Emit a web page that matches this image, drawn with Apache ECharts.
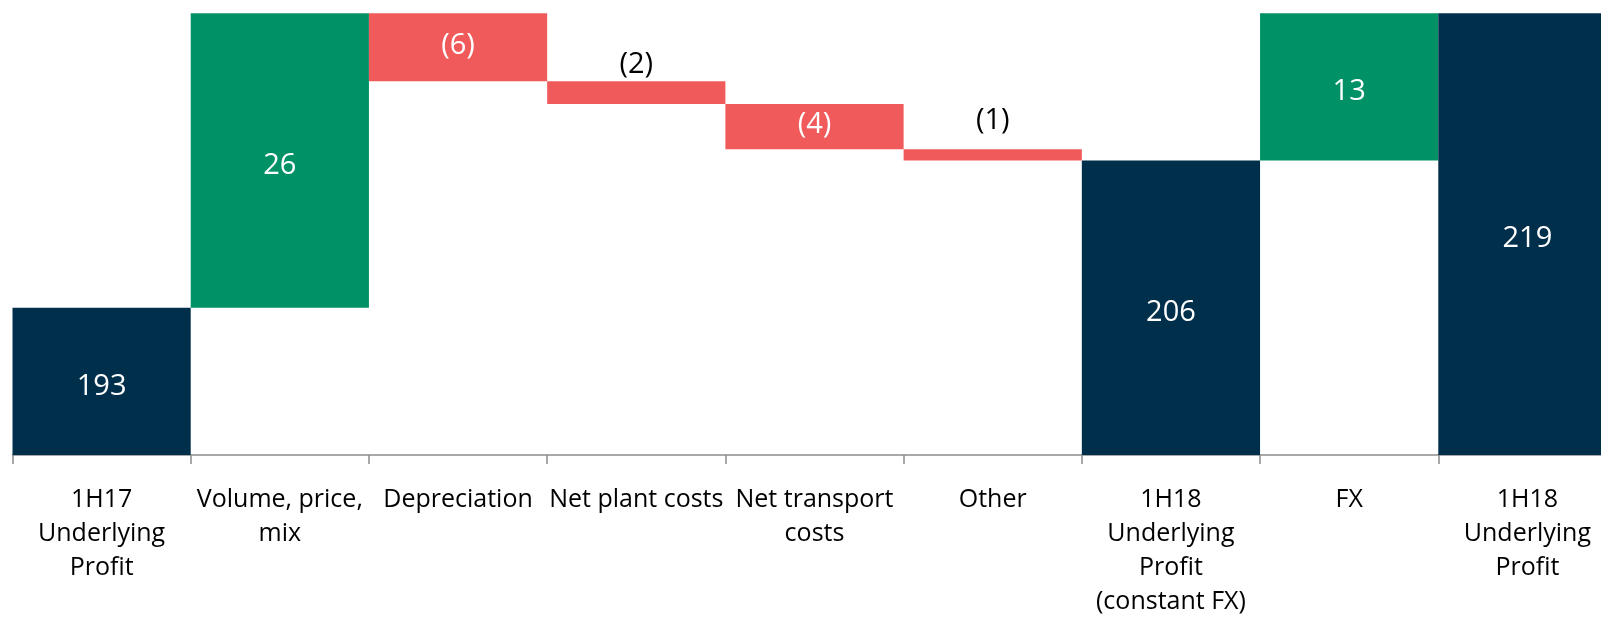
<!DOCTYPE html>
<html lang="en">

<head>
    <meta charset="utf-8">
    <title>1H17 to 1H18 Underlying Profit bridge</title>
    <script src="https://cdn.jsdelivr.net/npm/echarts@6/dist/echarts.min.js"></script>
    <style>
        html, body { margin: 0; padding: 0; background: #fff; overflow: hidden; }
        /* the last bar runs off the right edge in the original, so the canvas is wider than the page */
        #main { width: 1620px; height: 619px; }
    </style>
</head>

<body>
    <div id="main"></div>
    <script>
        // bridge steps, left to right
        var categories = [
            '1H17\nUnderlying\nProfit',
            'Volume, price,\nmix',
            'Depreciation',
            'Net plant costs',
            'Net transport\ncosts',
            'Other',
            '1H18\nUnderlying\nProfit\n(constant FX)',
            'FX',
            '1H18\nUnderlying\nProfit'
        ];
        var values = [193, 26, -6, -2, -4, -1, 206, 13, 219];
        // 'total' bars start from the axis, the others float on the running sum
        var kinds = ['total', 'up', 'down', 'down', 'down', 'down', 'total', 'up', 'total'];

        var colors = { total: '#002f4b', up: '#009166', down: '#f15a5a' };

        // build the invisible base and the visible step for each bar
        var baseData = [];
        var stepData = [];
        var running = 0;
        values.forEach(function (v, i) {
            var kind = kinds[i];
            var base, height;
            if (kind === 'total') {
                base = 0;
                height = v;
                running = v;
            } else if (v >= 0) {
                base = running;
                height = v;
                running += v;
            } else {
                running += v;
                base = running;
                height = -v;
            }
            baseData.push(base);
            // small steps get their label above the bar, in black
            var outside = Math.abs(v) <= 2 && kind !== 'total';
            // Excel sits labels a bit low in tall bars and a bit high in short ones
            var tall = kind === 'total' || Math.abs(v) > 10;
            stepData.push({
                value: height,
                itemStyle: { color: colors[kind] },
                label: outside ? {
                    position: 'top',
                    color: '#000',
                    distance: Math.abs(v) === 1 ? 14 : 2
                } : {
                    position: 'inside',
                    color: '#fff',
                    offset: [0, tall ? 5 : -2]
                }
            });
        });

        var myChart = echarts.init(document.getElementById('main'), null, { renderer: 'canvas' });

        myChart.setOption({
            animation: false,
            grid: {
                left: 12.5,
                top: 2,
                right: 3.5,
                bottom: 158
            },
            xAxis: {
                type: 'category',
                data: categories,
                boundaryGap: true,
                axisLine: { show: true, lineStyle: { color: '#8c8c8c', width: 1.5 } },
                axisTick: { show: true, length: 9, lineStyle: { color: '#8c8c8c', width: 1.5 } },
                axisLabel: {
                    interval: 0,
                    margin: 28,
                    color: '#000',
                    fontFamily: 'Open Sans',
                    fontSize: 25,
                    lineHeight: 34
                }
            },
            yAxis: {
                type: 'value',
                min: 180,
                max: 220,
                show: false,
                splitLine: { show: false }
            },
            series: [
                {
                    type: 'bar',
                    stack: 'bridge',
                    silent: true,
                    itemStyle: { color: 'transparent' },
                    data: baseData
                },
                {
                    type: 'bar',
                    stack: 'bridge',
                    barCategoryGap: 0,
                    clip: true,
                    label: {
                        show: true,
                        fontFamily: 'Open Sans',
                        fontSize: 29,
                        formatter: function (p) {
                            var v = values[p.dataIndex];
                            return v < 0 ? '(' + (-v) + ')' : String(v);
                        }
                    },
                    data: stepData
                }
            ]
        });
        window.onresize = myChart.resize;
    </script>
</body>

</html>
